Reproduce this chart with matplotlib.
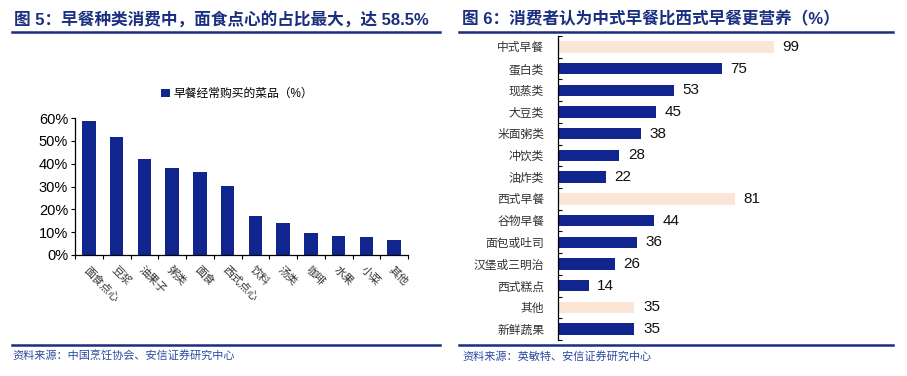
import matplotlib.pyplot as plt
from matplotlib.lines import Line2D
import numpy as np

plt.rcParams['font.family'] = ['Liberation Sans', 'Noto Sans CJK SC', 'DejaVu Sans']

# --- dados ---
left_cats = ['面食点心', '豆浆', '油果子', '粥类', '面食', '西式点心',
             '饮料', '汤类', '咖啡', '水果', '小菜', '其他']
left_vals = [0.585, 0.515, 0.422, 0.379, 0.363, 0.302,
             0.170, 0.142, 0.098, 0.083, 0.078, 0.066]
left_ticks = [0, 0.1, 0.2, 0.3, 0.4, 0.5, 0.6]
left_ticklabels = ['0%', '10%', '20%', '30%', '40%', '50%', '60%']

right_cats = ['中式早餐', '蛋白类', '现蒸类', '大豆类', '米面粥类', '冲饮类', '油炸类',
              '西式早餐', '谷物早餐', '面包或吐司', '汉堡或三明治', '西式糕点', '其他', '新鲜蔬果']
right_vals = [99, 75, 53, 45, 38, 28, 22, 81, 44, 36, 26, 14, 35, 35]
right_is_group = [True, False, False, False, False, False, False,
                  True, False, False, False, False, True, False]

NAVY = '#10268E'
PEACH = '#FBE5D6'
TITLE = '#1B2F80'
LINE = '#1B2F80'

W, H = 907, 376
fig = plt.figure(figsize=(W / 100, H / 100), dpi=100)


def px_axes(x0, y0, x1, y1):
    return fig.add_axes([x0 / W, 1 - y1 / H, (x1 - x0) / W, (y1 - y0) / H])


# --- titulos e linhas ---
fig.text(14 / W, 1 - 19 / H, '图 5：早餐种类消费中，面食点心的占比最大，达 58.5%',
         fontsize=12, fontweight='bold', color=TITLE, va='center', ha='left')
fig.text(462 / W, 1 - 19 / H, '图 6：消费者认为中式早餐比西式早餐更营养（%）',
         fontsize=12, fontweight='bold', color=TITLE, va='center', ha='left')
for x0, x1 in [(12, 440), (459, 893)]:
    fig.add_artist(Line2D([x0 / W, x1 / W], [1 - 32 / H] * 2, color=LINE, lw=1.8))
    fig.add_artist(Line2D([x0 / W, x1 / W], [1 - 345 / H] * 2, color=LINE, lw=1.8))
fig.text(12 / W, 1 - 356 / H, '资料来源：中国烹饪协会、安信证券研究中心',
         fontsize=8, style='italic', color='#2B4BA0', va='center', ha='left')
fig.text(462 / W, 1 - 356 / H, '资料来源：英敏特、安信证券研究中心',
         fontsize=8, style='italic', color='#2B4BA0', va='center', ha='left')

# --- grafico 5 ---
ax1 = px_axes(75, 118, 408, 255)
x = np.arange(len(left_cats))
ax1.bar(x, left_vals, width=0.48, color=NAVY, label='早餐经常购买的菜品（%）')
ax1.set_xlim(-0.5, len(left_cats) - 0.5)
ax1.set_ylim(0, 0.6)
ax1.set_yticks(left_ticks)
ax1.set_yticklabels(left_ticklabels, fontsize=10.5)
ax1.set_xticks(np.arange(len(left_cats) + 1) - 0.5)
ax1.set_xticklabels([])
ax1.set_xticks(x, minor=True)
ax1.set_xticklabels(left_cats, minor=True, rotation=-45, ha='left', va='top',
                    fontsize=8, color='#333333', rotation_mode='anchor')
ax1.tick_params(axis='x', which='minor', length=0, pad=7)
ax1.tick_params(axis='x', which='major', length=3, direction='out', width=0.8)
ax1.tick_params(axis='y', length=3, direction='out', width=0.8, pad=2)
for s in ['top', 'right']:
    ax1.spines[s].set_visible(False)
for s in ['left', 'bottom']:
    ax1.spines[s].set_linewidth(0.9)
ax1.legend(loc='center', bbox_to_anchor=(237 / W, 1 - 94 / H),
           bbox_transform=fig.transFigure, frameon=False, fontsize=8.5,
           handlelength=0.7, handleheight=0.7, handletextpad=0.3)

# --- grafico 6 ---
ax2 = px_axes(558, 36, 870, 340)
y = np.arange(len(right_cats))
colors = [PEACH if g else NAVY for g in right_is_group]
ax2.barh(y, right_vals, height=0.52, color=colors)
ax2.set_ylim(len(right_cats) - 0.5, -0.5)
ax2.set_xlim(0, 143)
for yi, v in zip(y, right_vals):
    ax2.text(v + 4, yi, str(v), va='center', ha='left', fontsize=11, color='#111111')
ax2.set_yticks(np.arange(len(right_cats) + 1) - 0.5)
ax2.set_yticklabels([])
ax2.set_yticks(y, minor=True)
ax2.set_yticklabels(right_cats, minor=True, fontsize=8.5, color='#333333')
ax2.tick_params(axis='y', which='minor', length=0, pad=10)
ax2.tick_params(axis='y', which='major', length=3, direction='in', width=0.8)
ax2.set_xticks([])
for s in ['top', 'right', 'bottom']:
    ax2.spines[s].set_visible(False)
ax2.spines['left'].set_linewidth(0.9)

fig.savefig('out.png', dpi=100)
